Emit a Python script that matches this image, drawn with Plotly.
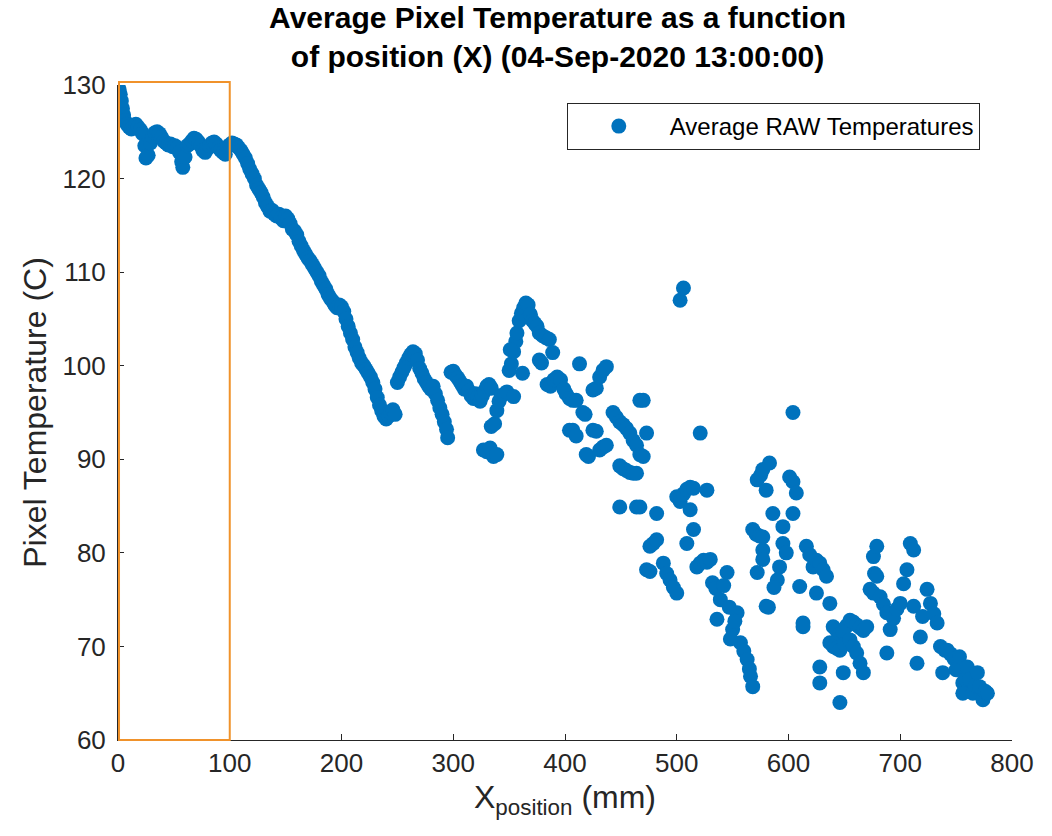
import plotly.graph_objects as go

# Data (x in mm, y in deg C)
pos_a = [0, 1, 2, 3, 4, 5, 6, 8, 10, 12, 14, 16, 18, 20, 22, 24, 25, 27, 29, 31, 33, 35, 37, 39, 41, 43, 45, 47, 49,
         51, 53, 55, 57, 58, 60, 62, 64, 66, 68, 70, 72, 74, 76, 78, 80, 82, 84, 86, 88, 90, 92, 94, 96, 98, 100,
         102, 104, 106, 108, 110, 112, 114, 116, 118, 120, 122, 124, 126, 128, 130, 132, 134, 136, 138, 140, 142,
         144, 146, 148, 150, 152, 154, 156, 158, 160, 162, 164, 166, 168, 170, 172, 174, 176, 178, 180, 182, 184,
         186, 188, 190, 192, 194, 196, 198, 200, 202, 204, 206, 208, 210, 212, 214, 216, 218, 220, 222, 224, 226,
         228, 230, 232, 234, 236, 238, 240, 242, 244, 246, 248]
temp_a = [129.8, 129.5, 129, 128.3, 127.5, 126.8, 126.2, 125.8, 125.5, 125.3, 125.6, 125.8, 125.5, 125.2, 124.8,
          123.5, 122.2, 122.5, 123.8, 124.5, 124.9, 125, 124.8, 124.4, 124, 123.8, 123.6, 123.7, 123.4, 123.5,
          123.3, 122.8, 121.8, 121.2, 122.3, 123.5, 123.7, 124, 124.3, 124.2, 123.9, 123.5, 123, 122.8, 123.2,
          123.5, 123.8, 123.9, 123.7, 123.3, 123, 122.8, 122.6, 123.4, 123.6, 123.8, 123.7, 123.6, 123.3, 123,
          122.6, 122.2, 121.6, 121, 120.5, 120, 119.3, 118.9, 118.5, 118, 117.4, 117, 116.5, 116.6, 116.2, 116,
          116.2, 115.8, 115.5, 116, 115.7, 115.2, 114.6, 114.4, 114, 113.3, 112.8, 112.3, 111.9, 111.5, 111.2,
          110.8, 110.4, 110, 109.6, 109, 108.6, 108.2, 107.6, 107.2, 106.9, 106.5, 106.2, 106.5, 106.3, 105.8,
          105, 104.2, 103.5, 102.8, 102, 101.4, 100.8, 100.3, 100, 99.6, 99.2, 98.8, 98.2, 97.5, 96.6, 95.8, 95.2,
          94.6, 94.3, 94.6, 95, 95.3, 94.8]

pos_b = [250, 252, 254, 256, 258, 260, 262, 264, 266, 268, 270, 272, 274, 276, 278, 280, 282, 284, 286, 288, 290,
         292, 294, 295, 298, 300, 302, 304, 306, 308, 310, 312, 314, 316, 318, 320, 322, 324, 326, 328, 330, 332, 334]
temp_b = [98.2, 98.8, 99.3, 99.8, 100.3, 100.8, 101.2, 101.5, 101.3, 100.6, 99.7, 99.2, 98.6, 98.2, 97.8, 97.5,
          97.8, 97, 96.3, 95.5, 94.8, 94, 93.2, 92.3, 99.3, 99.4, 99, 98.7, 98.3, 97.9, 97.5, 97.8, 97.3, 96.8,
          96.5, 97, 96.6, 96.2, 96.8, 97.3, 97.8, 98, 97.6]

pos_c = [327, 330, 333, 336, 339, 334, 337, 339, 341, 343, 346, 348, 350, 352, 354, 356, 357, 359, 361, 363, 365,
         367, 369, 371, 373, 375, 377, 380, 383, 386, 389, 351, 354, 362, 377, 379]
temp_c = [91, 90.8, 91.2, 90.3, 90.5, 93.5, 93.8, 95.2, 96.2, 96.8, 97, 97.2, 99.5, 100.2, 101.5, 102.6, 103.5,
          104.8, 105.6, 106.2, 106.7, 106.5, 105.5, 104.8, 104.5, 104.2, 103.5, 103.2, 103, 102.8, 101.4, 101.7,
          96.7, 99.2, 100.6, 100.3]

pos_d = [384, 387, 390, 393, 396, 399, 401, 404, 407, 410, 413, 416, 418, 404, 407, 410, 419, 421, 425, 428, 431,
         434, 437, 425, 428, 431, 434, 437, 443, 446, 449, 452, 455, 458, 461, 464, 467, 470, 473, 470, 467, 449,
         452, 455, 458, 461, 464, 449, 464, 467]
temp_d = [98, 97.8, 98.5, 98.8, 98.5, 97.5, 97, 96.5, 96.3, 96.3, 100.2, 95, 94.8, 93.1, 93.1, 92.5, 90.5, 90.3,
          97.4, 97.6, 98.8, 99.5, 99.9, 93.1, 93, 91, 91.3, 91.5, 95, 94.5, 94, 93.7, 93.3, 92.8, 92, 91.5, 90.5,
          90.3, 92.8, 96.3, 96.3, 89.3, 89, 88.8, 88.6, 88.5, 88.5, 84.9, 84.9, 84.9]

pos_e = [476, 479, 482, 473, 476, 482, 488, 491, 494, 497, 500, 500, 503, 506, 509, 512, 515, 527, 512, 515, 509,
         503, 506, 521, 518, 521, 524, 527, 530, 532, 535, 539, 542, 545, 536, 550, 554, 557, 560, 563, 565, 566,
         568, 547, 552, 548]
temp_e = [80.7, 81, 81.4, 78.2, 78, 84.2, 78.9, 77.8, 77.1, 76.3, 75.7, 86, 85.5, 86.3, 86.8, 87, 86.9, 86.7,
          84.6, 82.5, 81, 107, 108.3, 92.8, 78.5, 78.9, 79.2, 79, 79.3, 76.8, 76.2, 75, 76.5, 77.9, 72.9, 71.8,
          73.6, 70.4, 69.5, 68.6, 67.6, 66.8, 65.7, 74.2, 72.7, 70.8]

pos_f = [572, 575, 577, 583, 580, 586, 601, 604, 607, 604, 568, 571, 574, 577, 577, 577, 595, 595, 598, 572, 592,
         590, 587, 580, 582, 604, 610, 616, 619, 622, 625, 613, 613, 625, 628, 631, 634, 637, 628, 628]
temp_f = [87.8, 88.3, 88.9, 89.6, 86.7, 84.2, 88.1, 87.6, 86.4, 84.2, 82.5, 82, 81.8, 81.7, 80.3, 79.3, 82.8, 81,
          80, 77.9, 78.5, 77.1, 76.3, 74.3, 74.2, 95, 76.4, 80.7, 79.8, 78.5, 79.2, 72.5, 72.1, 75.7, 78.9, 78.2,
          77.5, 74.6, 67.8, 66.1]

pos_g = [640, 643, 646, 649, 652, 655, 658, 661, 664, 667, 670, 637, 640, 643, 646, 650, 655, 658, 661, 664, 667,
         649, 646, 676, 679, 677, 679, 673, 676, 682, 685, 688, 691, 688, 694, 697, 700, 703, 706, 709, 712, 712,
         715, 718, 720, 724, 727, 730, 733, 736, 738, 740, 742, 745, 748, 750, 753, 756, 756, 758, 760, 762, 765,
         767, 769, 771, 774, 776, 778]
temp_g = [72.1, 71.7, 71.3, 71.5, 72.2, 72.8, 72.6, 72.3, 72, 71.7, 72.1, 70.4, 70, 69.8, 69.6, 70.2, 70.7, 70,
          69.3, 68.2, 67.2, 67.2, 64, 79.6, 80.7, 77.8, 77.5, 76.1, 75.7, 75.3, 74.5, 73.6, 71.8, 69.3, 73, 74,
          74.6, 76.7, 78.2, 81, 80.3, 74.3, 68.2, 71, 73.2, 76.1, 74.6, 73.5, 72.5, 70, 67.2, 69.6, 69.6, 69.2,
          68.7, 67.5, 68.9, 66.1, 65, 66.5, 67.8, 66.5, 65, 65.8, 67.2, 65.7, 64.3, 65.2, 65]

x_position = pos_a + pos_b + pos_c + pos_d + pos_e + pos_f + pos_g
avg_temp = temp_a + temp_b + temp_c + temp_d + temp_e + temp_f + temp_g

x_ticks = [0, 100, 200, 300, 400, 500, 600, 700, 800]
y_ticks = [60, 70, 80, 90, 100, 110, 120, 130]

FONT = "Liberation Sans, Arial, Helvetica, sans-serif"
AX = "#262626"

fig = go.Figure()
fig.add_trace(go.Scatter(
    x=x_position, y=avg_temp, mode="markers",
    name="Average RAW Temperatures",
    marker=dict(color="#0072BD", size=15, line=dict(width=0)),
))

# orange highlight box around the first 100 mm
fig.add_shape(type="rect", xref="x", yref="paper",
              x0=0.9, x1=100, y0=0.0, y1=1.0046,
              line=dict(color="#F0922B", width=2), fillcolor="rgba(0,0,0,0)", layer="above")

fig.update_layout(
    width=1052, height=836,
    paper_bgcolor="white", plot_bgcolor="white",
    margin=dict(l=118, r=40, t=85, b=96),
    font=dict(family=FONT, color=AX, size=26),
    title=dict(
        text="<b>Average Pixel Temperature as a function<br>of position (X) (04-Sep-2020 13:00:00)</b>",
        x=0.53, xref="container", xanchor="center",
        y=0.966, yref="container", yanchor="top",
        font=dict(size=30, color="#000000", family=FONT),
    ),
    showlegend=True,
    legend=dict(
        x=0.502, y=0.9725, xanchor="left", yanchor="top",
        bgcolor="white", bordercolor=AX, borderwidth=1,
        font=dict(size=24, color="#000000"), itemwidth=92,
    ),
    xaxis=dict(
        range=[0, 800], tickvals=x_ticks, ticks="inside", ticklen=6, tickcolor=AX,
        showline=True, linecolor=AX, linewidth=1, mirror=False, showgrid=False, zeroline=False,
        tickfont=dict(size=26, color=AX),
        title=dict(text="X<sub>position</sub> (mm)", font=dict(size=32, color=AX), standoff=8),
    ),
    yaxis=dict(
        range=[60, 130], tickvals=y_ticks, ticks="inside", ticklen=6, tickcolor=AX,
        showline=True, linecolor=AX, linewidth=1, mirror=False, showgrid=False, zeroline=False,
        tickfont=dict(size=26, color=AX), ticklabelstandoff=6,
        title=dict(text="Pixel Temperature (C)", font=dict(size=32, color=AX), standoff=6),
    ),
)

fig.write_html("out.html")
